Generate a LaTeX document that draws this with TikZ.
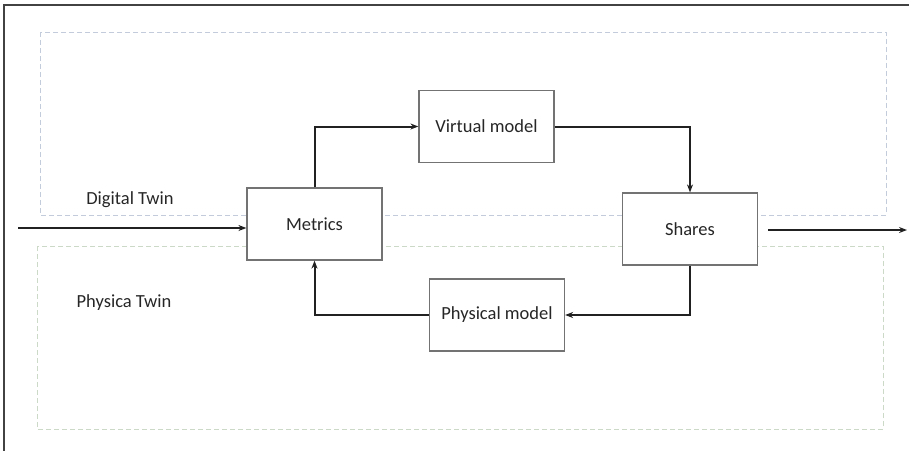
\documentclass[tikz,border=0pt]{standalone}
\usepackage{fontspec}
\setmainfont{Carlito}
\usetikzlibrary{arrows.meta}
\definecolor{boxgray}{rgb}{0.45,0.45,0.45}
\definecolor{linedark}{rgb}{0.13,0.13,0.13}
\definecolor{textdark}{rgb}{0.15,0.15,0.15}
\definecolor{digitaldash}{rgb}{0.76,0.80,0.86}
\definecolor{physicaldash}{rgb}{0.80,0.85,0.78}

\begin{document}
\begin{tikzpicture}[
  x=1pt, y=-1pt,
  >={Stealth[length=8pt, width=6pt]},
  every node/.style={font=\fontsize{18.5}{22}\selectfont, text=textdark},
  modelbox/.style={rectangle, fill=white, draw=boxgray, line width=1.2pt, minimum width=135pt, minimum height=72pt},
  flowedge/.style={->, draw=linedark, line width=2pt},
  twinarea/.style={dashed, dash pattern=on 5pt off 3pt, line width=1pt},
]
\useasboundingbox (0,0) rectangle (909,451);

% ---- frame ----
\draw[draw=linedark!85, line width=2pt] (909,5) -- (4,5) -- (4,451);

% ---- twin areas ----
\draw[twinarea, draw=digitaldash]  (40,32)  rectangle (886,215);
\draw[twinarea, draw=physicaldash] (37,246) rectangle (883,429);

\node (digital)  at (130,200) {Digital Twin};
\node (physica)  at (124,303) {Physica Twin};

% ---- models ----
\node[modelbox] (metrics)  at (314.5,224) {Metrics};
\node[modelbox] (virtual)  at (486.5,126.5) {Virtual model};
\node[modelbox] (shares)   at (690,229) {Shares};
\node[modelbox] (physical) at (497,315) {Physical model};

% ---- free ends ----
\coordinate (in)  at (18,228);
\coordinate (out) at (907,230);

% ---- edges ----
\draw[flowedge] (in) -- (metrics.west |- in);
\draw[flowedge] (metrics.north) |- (virtual.west);
\draw[flowedge] (virtual.east) -| (shares.north);
\draw[flowedge] (shares.south) |- (physical.east);
\draw[flowedge] (physical.west) -| (metrics.south);
\draw[flowedge, shorten <=10pt] (shares.east |- out) -- (out);

\end{tikzpicture}
\end{document}
